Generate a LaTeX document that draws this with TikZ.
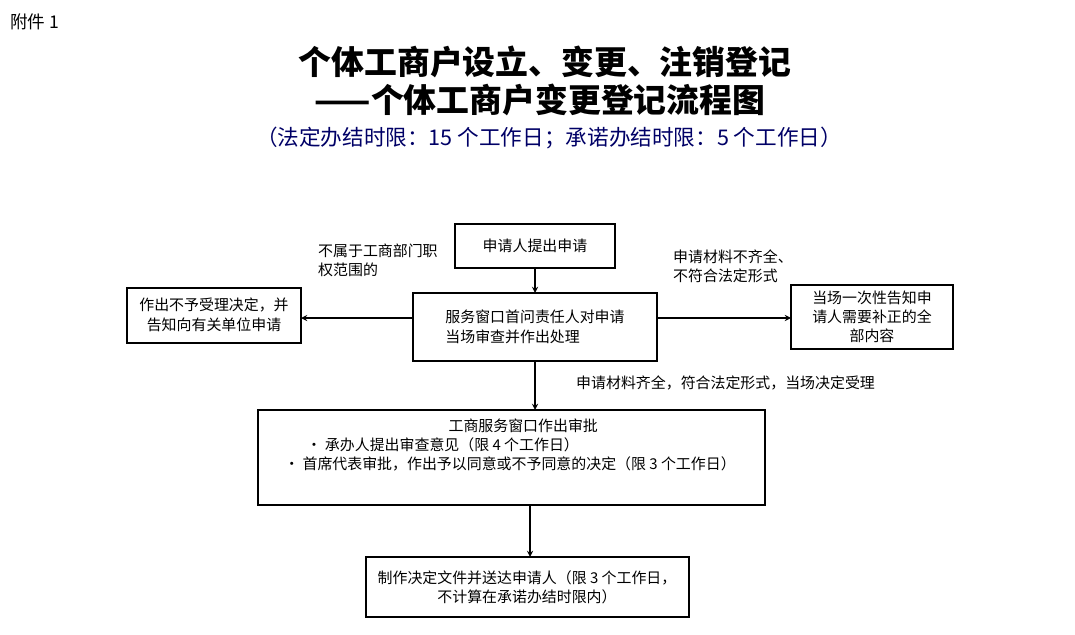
\documentclass[tikz,border=0pt]{standalone}
\usepackage{fontspec}
\setmainfont{Noto Sans CJK SC}
\newfontfamily\cjk{Noto Sans CJK SC}
\usetikzlibrary{arrows}
\tikzset{
  stepbox/.style={draw, semithick, inner sep=0pt},
  boxtext/.style={font=\fontsize{8.5}{11}\selectfont, align=center},
  note/.style={font=\fontsize{8.5}{11}\selectfont, align=left, anchor=west},
  flow/.style={->, >=stealth, semithick}
}
\begin{document}
\begin{tikzpicture}[x=0.02cm,y=-0.02cm]
\useasboundingbox (0,0) rectangle (1075,635);

\node[anchor=west, font=\fontsize{10}{12}\selectfont] (fj) at (4,22) {附件 1};
\node[font=\bfseries\fontsize{18.7}{22}\selectfont] (t1) at (545,62) {个体工商户设立、变更、注销登记};
\node[font=\bfseries\fontsize{18.7}{22}\selectfont] (t2) at (540,100) {——个体工商户变更登记流程图};
\node[font=\fontsize{12.3}{14}\selectfont, text=blue!40!black] (t3) at (549,138)
  {（法定办结时限：15 个工作日；承诺办结时限：5 个工作日）};

% boxes
\draw [stepbox] (455,224) rectangle (615,268);
\node[boxtext] (sq) at (535,246) {申请人提出申请};
\draw [stepbox] (413,293) rectangle (657,361);
\node[boxtext, align=left] (fw) at (535,327) {服务窗口首问责任人对申请\\当场审查并作出处理};
\draw [stepbox] (127,288) rectangle (301,343);
\node[boxtext] (bs) at (214,315) {作出不予受理决定，并\\告知向有关单位申请};
\draw [stepbox] (791,285) rectangle (953,349);
\node[boxtext] (bz) at (872,317) {当场一次性告知申\\请人需要补正的全\\部内容};
\draw [stepbox] (258,410) rectangle (765,505);
\node[boxtext, align=left] (sp) at (510,445) {\hspace*{11em}工商服务窗口作出审批\\
 \hspace*{1.5em}· 承办人提出审查意见（限 4 个工作日）\\
 · 首席代表审批，作出予以同意或不予同意的决定（限 3 个工作日）};
\draw [stepbox] (366,557) rectangle (689,617);
\node[boxtext] (zz) at (527,587) {制作决定文件并送达申请人（限 3 个工作日，\\不计算在承诺办结时限内）};

% arrows
\coordinate (a1) at (535,268); \coordinate (a2) at (535,293);
\draw [flow] (a1) -- (a2);
\coordinate (l1) at (413,318); \coordinate (l2) at (301,318);
\draw [flow] (l1) -- (l2);
\coordinate (r1) at (657,318); \coordinate (r2) at (791,318);
\draw [flow] (r1) -- (r2);
\coordinate (d1) at (535,361); \coordinate (d2) at (535,410);
\draw [flow] (d1) -- (d2);
\coordinate (e1) at (530,505); \coordinate (e2) at (530,557);
\draw [flow] (e1) -- (e2);

% notes
\node[note] (n1) at (312,260) {不属于工商部门职\\权范围的};
\node[note] (n2) at (667,266) {申请材料不齐全、\\不符合法定形式};
\node[note] (n3) at (570,383) {申请材料齐全，符合法定形式，当场决定受理};
\end{tikzpicture}
\end{document}
